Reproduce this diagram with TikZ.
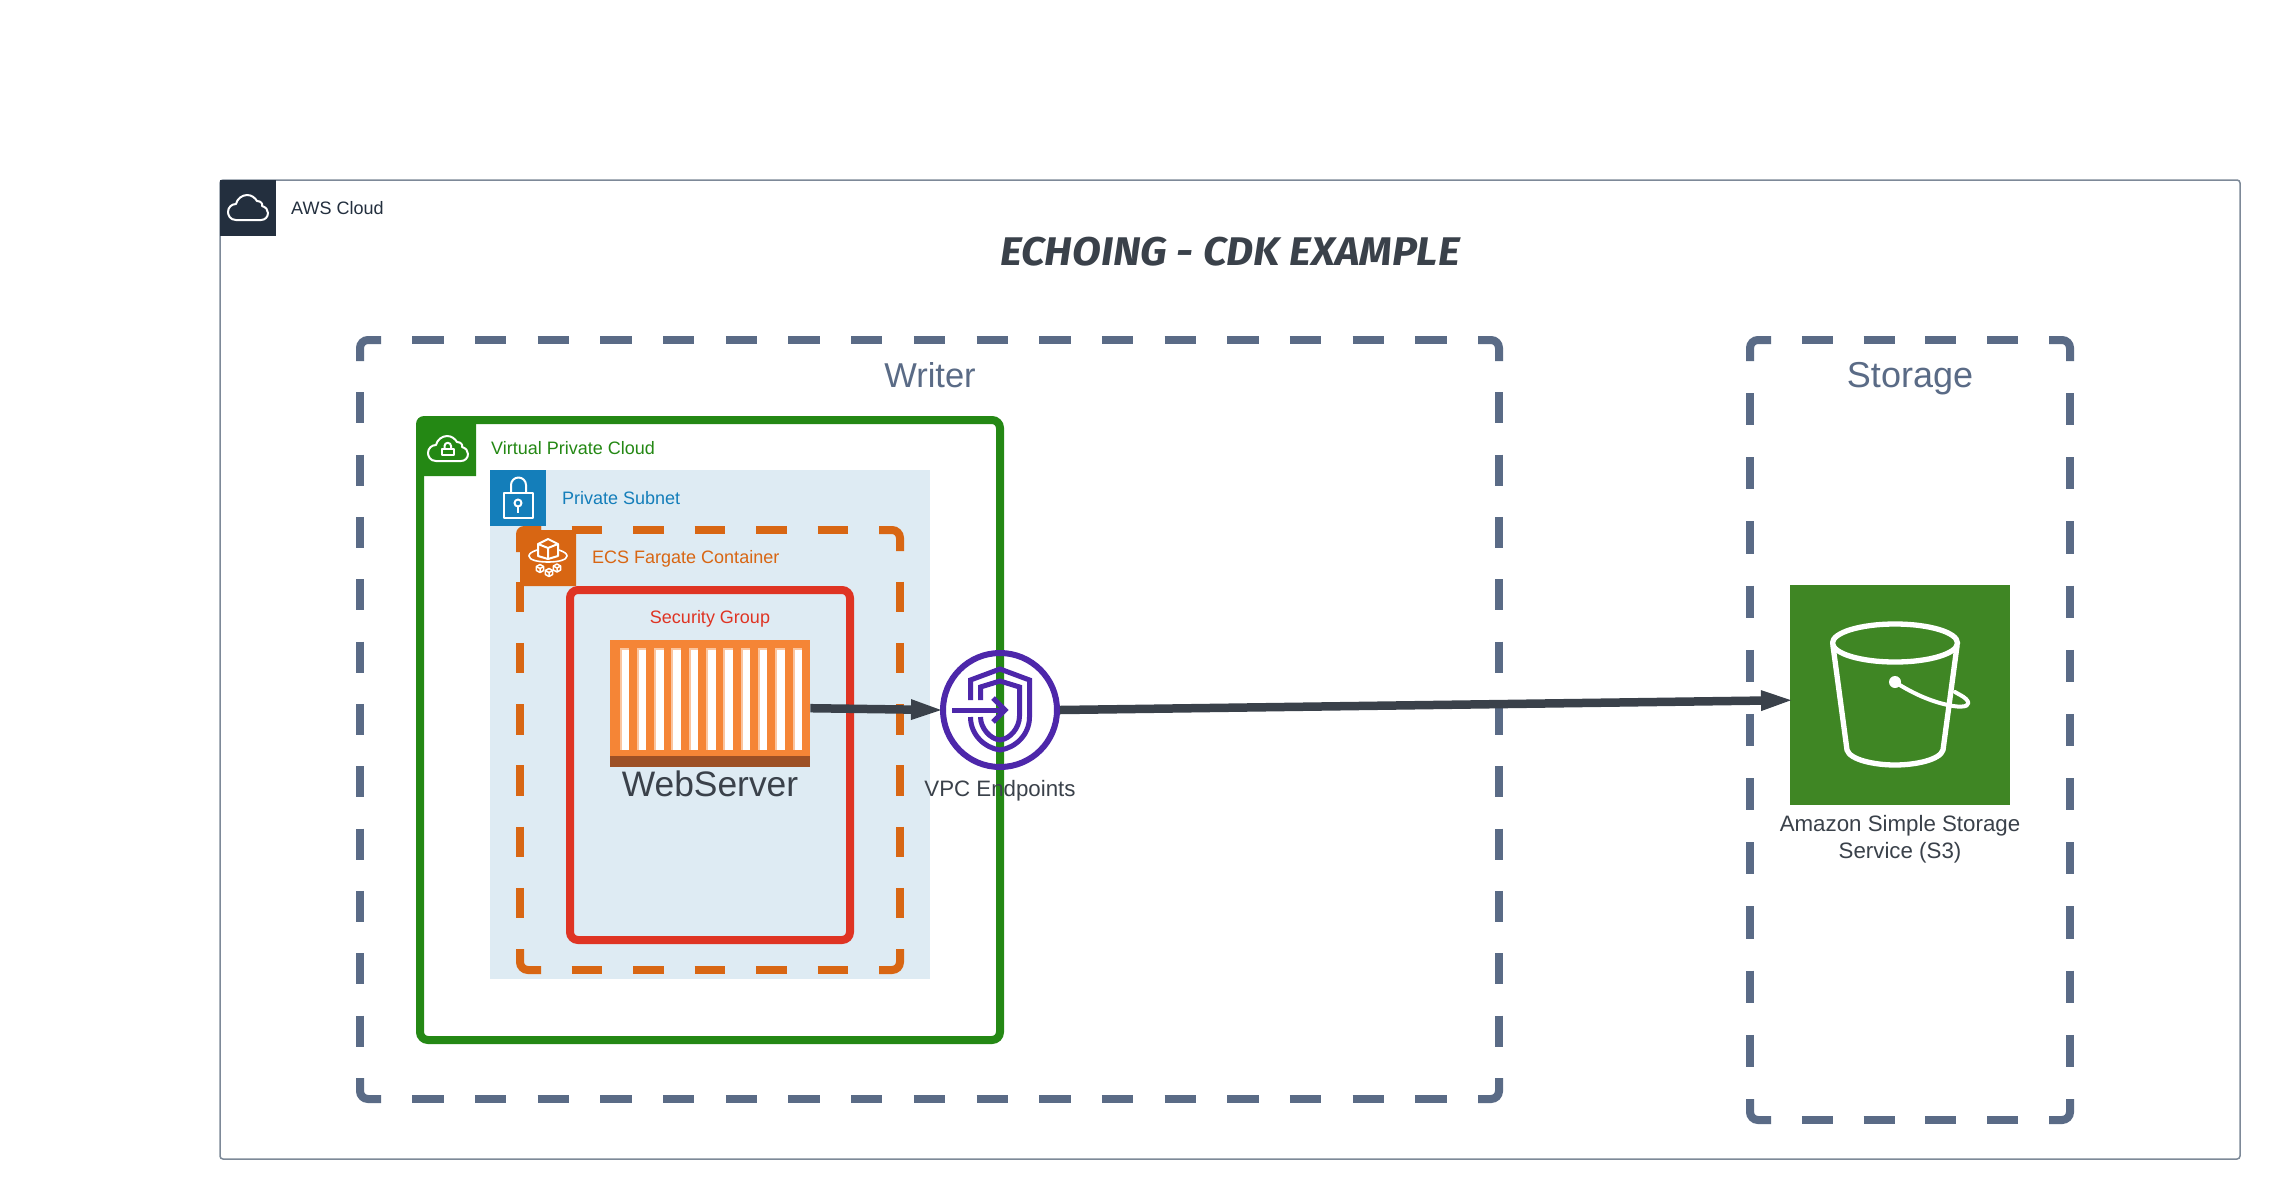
\documentclass[tikz,border=0pt]{standalone}
\usepackage{fontspec}
\setmainfont{Liberation Sans}
\newfontfamily\titlefont{Fira Sans}[UprightFont=* Bold,ItalicFont=* Bold Italic]
\usetikzlibrary{arrows.meta,shapes.geometric}
\definecolor{cloudnavy}{HTML}{232F3E}
\definecolor{framegrey}{HTML}{7D8998}
\definecolor{groupslate}{HTML}{5A6B86}
\definecolor{vpcgreen}{HTML}{248814}
\definecolor{subnetblue}{HTML}{147EBA}
\definecolor{subnetfill}{HTML}{DEEBF3}
\definecolor{ecsorange}{HTML}{D86613}
\definecolor{sgred}{HTML}{DF3423}
\definecolor{inkdark}{HTML}{3A414A}
\definecolor{boxorange}{HTML}{F58536}
\definecolor{boxbrown}{HTML}{9D5025}
\definecolor{slitedge}{HTML}{FBC59F}
\definecolor{vpcepurple}{HTML}{4D27AA}
\definecolor{sthreegreen}{HTML}{3F8624}
\tikzset{
  x=1pt,y=-1pt,
  lbl/.style={inner sep=0pt,font=\fontsize{18}{21}\selectfont,anchor=west},
  iconsq/.style={draw=none,inner sep=0pt,minimum size=56pt,anchor=north west},
  iconline/.style={draw=white,line width=2pt,line join=round},
  flowarrow/.style={draw=inkdark,line width=8.5pt,-{Triangle[length=30pt,width=21pt,inset=0pt,line width=0pt,sep=0pt]},shorten >=-1pt},
  shieldline/.style={draw=vpcepurple,line width=5pt,line join=miter},
  caption/.style={inner sep=0pt,text=inkdark,font=\fontsize{22.3}{27}\selectfont,align=center},
}
% one side of a dashed frame: starts and ends on a gap
\newcommand\dashside[5]{%
  \pgfmathsetmacro\sideN{round((#5-31)/62)}%
  \pgfmathsetmacro\sideS{#5/(\sideN*62+31)}%
  \pgfmathsetmacro\sideD{31*\sideS}%
  \draw[draw=#1,line width=8pt,dash pattern=on \sideD pt off \sideD pt,dash phase=\sideD pt] (#2,#3) -- (#4);%
}
\newcommand\dashframe[5]{%
  \pgfmathsetmacro\xa{#1+21}\pgfmathsetmacro\xb{#3-21}%
  \pgfmathsetmacro\ya{#2+21}\pgfmathsetmacro\yb{#4-21}%
  \pgfmathsetmacro\lenx{#3-#1-42}\pgfmathsetmacro\leny{#4-#2-42}%
  \begin{scope}[draw=#5,line width=8pt,rounded corners=8pt]
    \draw[draw=#5] (#1,\ya) -- (#1,#2) -- (\xa,#2);
    \draw[draw=#5] (\xb,#2) -- (#3,#2) -- (#3,\ya);
    \draw[draw=#5] (#3,\yb) -- (#3,#4) -- (\xb,#4);
    \draw[draw=#5] (\xa,#4) -- (#1,#4) -- (#1,\yb);
  \end{scope}
  \dashside{#5}{\xa}{#2}{\xb,#2}{\lenx}
  \dashside{#5}{\xa}{#4}{\xb,#4}{\lenx}
  \dashside{#5}{#1}{\ya}{#1,\yb}{\leny}
  \dashside{#5}{#3}{\ya}{#3,\yb}{\leny}
}
\newcommand\cloudpath{(-12,12) .. controls (-18,12) and (-20,7) .. (-20,4) .. controls (-20,-1) and (-16,-4) .. (-12,-4) .. controls (-11,-9) and (-6,-13) .. (-1,-13) .. controls (4,-13) and (7,-10) .. (9,-7) .. controls (13,-7) and (15,-4) .. (14,-2) .. controls (18,-1) and (20,2) .. (20,5) .. controls (20,9) and (17,12) .. (13,12) -- cycle}
\newcommand\minicube[3]{%
  \draw[draw=white,line width=#3,line join=round] (#1,#2) +(0,-4) -- +(3.6,-2) -- +(3.6,2) -- +(0,4) -- +(-3.6,2) -- +(-3.6,-2) -- cycle;
  \draw[draw=white,line width=#3,line join=round] (#1,#2) +(-3.6,-2) -- +(0,0) -- +(3.6,-2) +(0,0) -- +(0,4);
}
\begin{document}
\begin{tikzpicture}
\useasboundingbox (0,0) rectangle (2280,1200);
\fill[white] (0,0) rectangle (2280,1200);

% AWS Cloud frame
\draw[draw=framegrey,line width=1.5pt,rounded corners=3pt] (220,180) rectangle (2240,1159);
\node[iconsq,fill=cloudnavy] (awsicon) at (220,180) {};
\draw[iconline,shift={(248,208)}] \cloudpath;
\node[lbl,text=cloudnavy] (awslabel) at (291,208) {AWS Cloud};

% Title
\node[inner sep=0pt,text=inkdark,transform shape,xscale=1.05] (title) at (1230,252) {\titlefont\itshape\fontsize{40}{44}\selectfont ECHOING - CDK EXAMPLE};

% Group frames
\dashframe{360}{340}{1499}{1099}{groupslate}
\dashframe{1750}{340}{2070}{1120}{groupslate}
\node[inner sep=0pt,text=groupslate,font=\fontsize{34.5}{40}\selectfont] (writer) at (930,375) {Writer};
\node[inner sep=0pt,text=groupslate,font=\fontsize{36}{40}\selectfont] (storage) at (1910,379) {Storage};

% VPC
\draw[draw=vpcgreen,line width=8pt,rounded corners=8pt] (420,420) rectangle (1000,1040);
\fill[vpcgreen] (416,476) [rounded corners=8pt] -- (416,416) [sharp corners] -- (476,416) -- (476,476) -- cycle;
\node[lbl,text=vpcgreen] (vpclabel) at (491,448) {Virtual Private Cloud};
\draw[iconline,shift={(448,449)}] \cloudpath;
\draw[iconline] (442,449) rectangle (453.5,455);
\draw[iconline] (444.5,449) -- (444.5,446) arc[start angle=180,end angle=360,radius=3.25] -- (451,449);

% Subnet
\fill[subnetfill] (490,470) rectangle (930,979);
\node[iconsq,fill=subnetblue] (subneticon) at (490,470) {};
\draw[iconline] (503.5,493) rectangle (533,518);
\draw[iconline] (511,493) -- (511,485) arc[start angle=180,end angle=360,radius=7.5] -- (526,493);
\draw[iconline] (518,503) circle[radius=3.5];
\draw[iconline] (518,506.5) -- (518,513);
\node[lbl,text=subnetblue] (subnetlabel) at (562,498) {Private Subnet};

% ECS frame
\dashframe{520}{530}{900}{970}{ecsorange}
\fill[ecsorange] (516,552) [rounded corners=8pt] -- (516,526) [sharp corners] -- (541,526) -- (541,530) -- (576,530) -- (576,586) -- (520,586) -- (520,552) -- cycle;
\node[lbl,text=ecsorange] (ecslabel) at (592,559) {ECS Fargate Container};
\draw[iconline] (548,539) -- (558,544) -- (558,556) -- (548,559) -- (538,556) -- (538,544) -- cycle;
\draw[iconline] (538,544) -- (548,548) -- (558,544) (548,548) -- (548,559);
\draw[draw=white,line width=1.6pt] (537,550) .. controls (531,552) and (529,554) .. (529,556) .. controls (529,560) and (538,562) .. (548,562) .. controls (558,562) and (567,560) .. (567,556) .. controls (567,554) and (565,552) .. (559,550);
\minicube{540}{568.5}{1.5pt}
\minicube{549}{572.5}{1.5pt}
\minicube{557}{568}{1.5pt}

% Security group
\draw[draw=sgred,line width=8pt,rounded corners=8pt] (570,590) rectangle (850,940);
\node[inner sep=0pt,text=sgred,font=\fontsize{18}{21}\selectfont] (sglabel) at (710,619) {Security Group};

% WebServer container
\node[draw=none,fill=boxorange,inner sep=0pt,minimum width=200pt,minimum height=127pt,anchor=north west] (webserver) at (610,640) {};
\fill[boxbrown] (610,756) rectangle (810,767);
\foreach \i in {0,...,10}{
  \pgfmathsetmacro\sx{619.5+17.3*\i}
  \pgfmathsetmacro\sxb{\sx+9.5}
  \fill[slitedge] (\sx,648) rectangle (\sxb,750);
  \pgfmathsetmacro\wa{\sx+2}
  \pgfmathsetmacro\wb{\sx+9.5}
  \fill[white] (\wa,650) rectangle (\wb,750);
}
\node[inner sep=0pt,text=inkdark,font=\fontsize{35.4}{40}\selectfont] (weblabel) at (710,784) {WebServer};

% VPC endpoint
\node[circle,draw=vpcepurple,line width=6pt,fill=none,inner sep=0pt,minimum size=114pt] (vpce) at (1000,710) {};
\draw[shieldline] (970.5,700) -- (970.5,680) -- (1000,669) -- (1029.5,680) -- (1029.5,717) .. controls (1029.5,735) and (1015,748) .. (1000,750) .. controls (985,748) and (970.5,735) .. (970.5,717);
\draw[shieldline] (980.5,700) -- (980.5,687) -- (1000,681) -- (1019.5,687) -- (1019.5,716) .. controls (1019.5,728) and (1010,739) .. (1000,740) .. controls (990,739) and (980.5,728) .. (980.5,717);
\draw[draw=vpcepurple,line width=5pt] (952,710) -- (1003,710);
\draw[draw=vpcepurple,line width=5pt,line join=miter] (993,698) -- (1005,710) -- (993,722);
\node[caption] (vpcelabel) at (1000,790.5) {VPC Endpoints};

% S3
\node[draw=none,fill=sthreegreen,inner sep=0pt,minimum size=220pt,anchor=north west] (sthree) at (1790,585) {};
\begin{scope}[draw=white,line width=5.3pt,line join=round,line cap=round]
  \draw[draw=white] (1895,643) ellipse[x radius=62.5,y radius=19];
  \draw[draw=white] (1833,646) -- (1847,750) .. controls (1850,760) and (1875,765) .. (1895,765) .. controls (1915,765) and (1940,760) .. (1943,750) -- (1957,646);
  \draw[draw=white,line width=4pt] (1895,682) .. controls (1915,695) and (1935,703) .. (1953,706) .. controls (1966,708) and (1972,705) .. (1966,699) .. controls (1963,696) and (1958,694) .. (1955,692);
\end{scope}
\fill[white] (1895,682) circle[radius=6];
\node[caption] (sthreelabel) at (1900,839.5) {Amazon Simple Storage\\Service (S3)};

% Connectors
\draw[flowarrow] ([yshift=-4.5pt]webserver.east) -- (vpce.west);
\draw[flowarrow] (vpce.east) -- ([yshift=-5pt]sthree.west);
\end{tikzpicture}
\end{document}
